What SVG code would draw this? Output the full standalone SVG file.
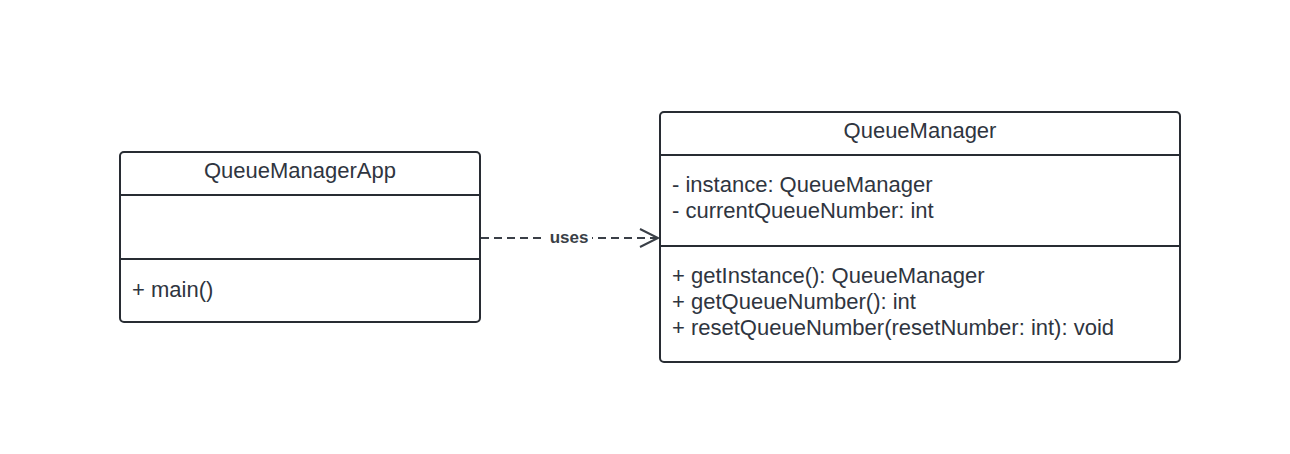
<svg xmlns="http://www.w3.org/2000/svg" width="1290" height="454" viewBox="0 0 1290 454">
<style>
.box{fill:#fff;stroke:#282c33;stroke-width:2}
.div{stroke:#282c33;stroke-width:2}
.t{font-family:"Liberation Sans",Arial,sans-serif;font-size:22px;fill:#2f3540}
.c{text-anchor:middle}
.lbl{font-family:"Liberation Sans",Arial,sans-serif;font-size:17px;font-weight:bold;fill:#3a3f47;text-anchor:middle}
.edge{stroke:#3a3f47;stroke-width:2;fill:none}
</style>
<rect width="1290" height="454" fill="#fff"/>
<g id="connectors">
<line class="edge" x1="481" y1="238" x2="658" y2="238" stroke-dasharray="8,5"/>
<polyline class="edge" points="640,229 658,238 640,247"/>
<rect x="546" y="228" width="46" height="18" fill="#fff"/>
<text class="lbl" x="569" y="243">uses</text>
</g>
<g id="QueueManagerApp">
<rect class="box" x="120" y="152" width="360" height="170" rx="4"/>
<line class="div" x1="120" y1="195" x2="480" y2="195"/>
<line class="div" x1="120" y1="259" x2="480" y2="259"/>
<text class="t c" x="300" y="178">QueueManagerApp</text>
<text class="t" x="132" y="297">+ main()</text>
</g>
<g id="QueueManager">
<rect class="box" x="660" y="112" width="520" height="250" rx="4"/>
<line class="div" x1="660" y1="155" x2="1180" y2="155"/>
<line class="div" x1="660" y1="246" x2="1180" y2="246"/>
<text class="t c" x="920" y="138">QueueManager</text>
<text class="t" x="672" y="192">- instance: QueueManager</text>
<text class="t" x="672" y="218">- currentQueueNumber: int</text>
<text class="t" x="672" y="283">+ getInstance(): QueueManager</text>
<text class="t" x="672" y="309">+ getQueueNumber(): int</text>
<text class="t" x="672" y="335">+ resetQueueNumber(resetNumber: int): void</text>
</g>
</svg>
